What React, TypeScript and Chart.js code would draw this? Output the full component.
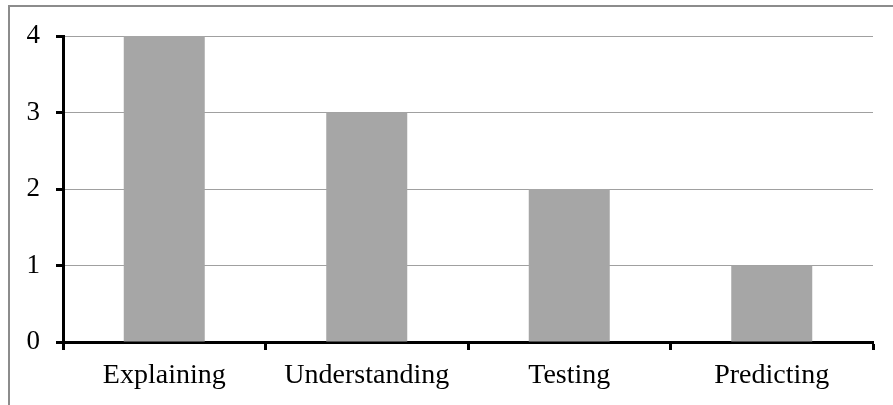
import React, { useEffect, useRef } from "react";
import { Chart, registerables } from "chart.js";

Chart.register(...registerables);

const categories = ["Explaining", "Understanding", "Testing", "Predicting"];
const values = [4, 3, 2, 1];
const yTicks = [0, 1, 2, 3, 4];

const FONT = "'Liberation Serif', 'Times New Roman', serif";

const frame = {
  id: "frame",
  afterDraw(chart: any) {
    const ctx = chart.ctx;
    ctx.save();
    ctx.strokeStyle = "#8c8c8c";
    ctx.lineWidth = 2;
    ctx.beginPath();
    ctx.moveTo(9, 405);
    ctx.lineTo(9, 6);
    ctx.lineTo(893, 6);
    ctx.stroke();
    ctx.restore();
  },
};

export default function App() {
  const ref = useRef<HTMLCanvasElement>(null);
  useEffect(() => {
    const chart = new Chart(ref.current!, {
      type: "bar",
      data: {
        labels: categories,
        datasets: [
          {
            data: values,
            backgroundColor: "#a6a6a6",
            borderWidth: 0,
            categoryPercentage: 1,
            barPercentage: 0.4,
          },
        ],
      },
      options: {
        animation: false,
        responsive: false,
        layout: { padding: { top: 36, right: 20, left: 0, bottom: 0 } },
        plugins: { legend: { display: false }, tooltip: { enabled: false } },
        scales: {
          x: {
            grid: {
              offset: true,
              drawOnChartArea: false,
              tickLength: 8,
              tickColor: "#000",
              tickWidth: 3,
            },
            border: { color: "#000", width: 3 },
            ticks: {
              color: "#000",
              font: { family: FONT, size: 28 },
              padding: 9,
              maxRotation: 0,
            },
            afterFit(scale: any) {
              scale.height = 63;
            },
          },
          y: {
            min: 0,
            max: 4,
            afterBuildTicks(scale: any) {
              scale.ticks = yTicks.map((v) => ({ value: v }));
            },
            grid: {
              color: "#a0a0a0",
              lineWidth: 1,
              tickLength: 7,
              tickColor: "#000",
              tickWidth: 3,
            },
            border: { color: "#000", width: 3 },
            ticks: {
              color: "#000",
              font: { family: FONT, size: 27 },
              padding: 16,
            },
            afterFit(scale: any) {
              scale.width = 63;
            },
          },
        },
      },
      plugins: [frame],
    });
    return () => chart.destroy();
  }, []);
  return (
    <div style={{ position: "fixed", left: 0, top: 0, width: 893, height: 405, background: "#fff" }}>
      <canvas ref={ref} width={893} height={405} style={{ display: "block" }} />
    </div>
  );
}
